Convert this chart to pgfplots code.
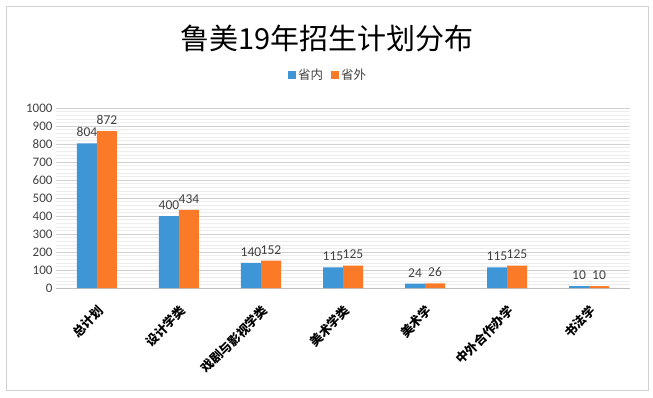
\documentclass[border=0pt]{standalone}
\usepackage{fontspec}
\setmainfont{Carlito}
\newfontfamily\cjk{Noto Sans CJK SC}
\usepackage{pgfplots}
\pgfplotsset{compat=1.18}
\definecolor{cblue}{RGB}{62,150,214}
\definecolor{corange}{RGB}{250,122,40}
\definecolor{lbl}{RGB}{64,64,64}
\begin{document}
\begin{tikzpicture}[x=1pt,y=1pt]
\path (-56,-109) rectangle (597,288);
\draw[gray!35, line width=1pt] (-49,-102) rectangle (592,281);
\node at (271,250) {\cjk\fontsize{29}{29}\selectfont 鲁美19年招生计划分布};
\begin{axis}[
  at={(0,0)}, anchor=south west,
  scale only axis, width=574pt, height=180pt,
  xmin=-0.5, xmax=6.5, ymin=0, ymax=1000,
  ybar=0pt, bar width=20pt,
  xtick={0,...,6},
  xticklabels={总计划,设计学类,戏剧与影视学类,美术学类,美术学,中外合作办学,书法学},
  xticklabel style={rotate=45, anchor=north east, font=\cjk\bfseries\fontsize{12.5}{12.5}\selectfont, text=black},
  xticklabel shift=7pt,
  ytick distance=100, minor y tick num=4,
  ymajorgrids, yminorgrids,
  major grid style={color=black!18},
  minor grid style={color=black!7},
  axis lines*=left,
  x axis line style={color=black!25},
  y axis line style={draw=none},
  tick style={draw=none},
  yticklabel style={font=\fontsize{13}{13}\selectfont, text=lbl, /pgf/number format/1000 sep={}},
  /pgf/number format/assume math mode=true,
  nodes near coords,
  nodes near coords style={font=\fontsize{13.5}{13.5}\selectfont, text=lbl, yshift=3pt},
  legend columns=2,
  legend style={at={(0.474,1.183)}, anchor=center, draw=none, fill=none,
    font=\cjk\fontsize{12.5}{12.5}\selectfont, text=lbl,
    /tikz/every even column/.append style={column sep=6pt}},
  legend image code/.code={\fill[#1] (0pt,-3.5pt) rectangle (8pt,4.5pt);},
]
\addplot[fill=cblue, draw=none] coordinates {(0,804) (1,400) (2,140) (3,115) (4,24) (5,115) (6,10)};
\addplot[fill=corange, draw=none] coordinates {(0,872) (1,434) (2,152) (3,125) (4,26) (5,125) (6,10)};
\legend{省内,省外}
\end{axis}
\end{tikzpicture}
\end{document}
